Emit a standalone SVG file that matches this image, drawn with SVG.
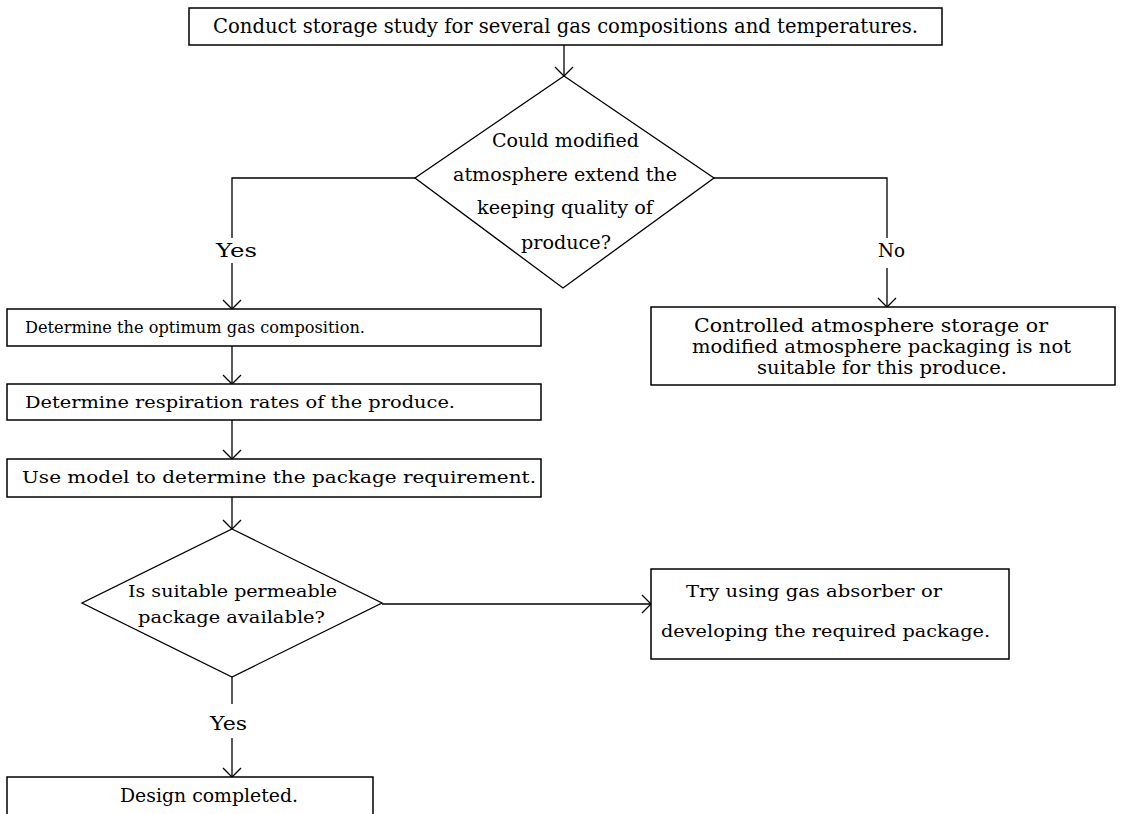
<svg xmlns="http://www.w3.org/2000/svg" width="1121" height="814" viewBox="0 0 1121 814">
<style>
.box{fill:#fff;stroke:#000;stroke-width:1.5}
.dia{fill:#fff;stroke:#000;stroke-width:1.3}
.ln{fill:none;stroke:#000;stroke-width:1.3}
text{font-family:"DejaVu Serif","Liberation Serif",serif;fill:#000}
</style>
<defs>
<marker id="ah" markerUnits="userSpaceOnUse" markerWidth="24" markerHeight="24" viewBox="-12 -12 24 24" refX="0" refY="0" orient="auto">
<path d="M-9,-9 L0,0 L-9,9" fill="none" stroke="#000" stroke-width="1.3"/>
</marker>
</defs>
<rect width="1121" height="814" fill="#fff"/>
<g id="connectors">
<line class="ln" x1="564" y1="45" x2="564" y2="76" marker-end="url(#ah)"/>
<polyline class="ln" points="415,178 232,178 232,238"/>
<line class="ln" x1="232" y1="263" x2="232" y2="309" marker-end="url(#ah)"/>
<polyline class="ln" points="714,178 887,178 887,238"/>
<line class="ln" x1="887" y1="268" x2="887" y2="307" marker-end="url(#ah)"/>
<line class="ln" x1="232" y1="346" x2="232" y2="384" marker-end="url(#ah)"/>
<line class="ln" x1="232" y1="420" x2="232" y2="459" marker-end="url(#ah)"/>
<line class="ln" x1="232" y1="497" x2="232" y2="529" marker-end="url(#ah)"/>
<line class="ln" x1="382" y1="604" x2="651" y2="604" marker-end="url(#ah)"/>
<line class="ln" x1="232" y1="677" x2="232" y2="704"/>
<line class="ln" x1="232" y1="738" x2="232" y2="777" marker-end="url(#ah)"/>
<text x="216" y="257" font-size="18" textLength="41" lengthAdjust="spacingAndGlyphs">Yes</text>
<text x="878" y="257" font-size="18" textLength="27" lengthAdjust="spacingAndGlyphs">No</text>
<text x="210" y="730" font-size="18" textLength="37" lengthAdjust="spacingAndGlyphs">Yes</text>
</g>
<g id="start">
<rect class="box" x="189" y="8" width="753" height="37"/>
<text x="213" y="33" font-size="20" textLength="705" lengthAdjust="spacingAndGlyphs">Conduct storage study for several gas compositions and temperatures.</text>
</g>
<g id="decision1">
<polygon class="dia" points="564,76 714,178 563,288 415,178"/>
<text x="492" y="147" font-size="19" textLength="147" lengthAdjust="spacingAndGlyphs">Could modified</text>
<text x="453" y="181" font-size="19" textLength="224" lengthAdjust="spacingAndGlyphs">atmosphere extend the</text>
<text x="477" y="214" font-size="19" textLength="176" lengthAdjust="spacingAndGlyphs">keeping quality of</text>
<text x="521" y="249" font-size="19" textLength="90" lengthAdjust="spacingAndGlyphs">produce?</text>
</g>
<g id="not-suitable">
<rect class="box" x="651" y="307" width="464" height="78"/>
<text x="694" y="332" font-size="18" textLength="354" lengthAdjust="spacingAndGlyphs">Controlled atmosphere storage or</text>
<text x="692" y="353" font-size="18" textLength="379" lengthAdjust="spacingAndGlyphs">modified atmosphere packaging is not</text>
<text x="757" y="374" font-size="18" textLength="250" lengthAdjust="spacingAndGlyphs">suitable for this produce.</text>
</g>
<g id="optimum-gas">
<rect class="box" x="7" y="309" width="534" height="37"/>
<text x="25" y="333" font-size="17" textLength="340" lengthAdjust="spacingAndGlyphs">Determine the optimum gas composition.</text>
</g>
<g id="respiration">
<rect class="box" x="7" y="384" width="534" height="36"/>
<text x="25" y="408" font-size="17" textLength="430" lengthAdjust="spacingAndGlyphs">Determine respiration rates of the produce.</text>
</g>
<g id="model">
<rect class="box" x="7" y="459" width="534" height="38"/>
<text x="22" y="483" font-size="17" textLength="514" lengthAdjust="spacingAndGlyphs">Use model to determine the package requirement.</text>
</g>
<g id="decision2">
<polygon class="dia" points="232,529 382,603 232,677 82,603"/>
<text x="128" y="597" font-size="17" textLength="209" lengthAdjust="spacingAndGlyphs">Is suitable permeable</text>
<text x="138" y="623" font-size="17" textLength="187" lengthAdjust="spacingAndGlyphs">package available?</text>
</g>
<g id="absorber">
<rect class="box" x="651" y="569" width="358" height="90"/>
<text x="686" y="597" font-size="17" textLength="256" lengthAdjust="spacingAndGlyphs">Try using gas absorber or</text>
<text x="661" y="637" font-size="17" textLength="329" lengthAdjust="spacingAndGlyphs">developing the required package.</text>
</g>
<g id="design-completed">
<rect class="box" x="7" y="777" width="366" height="50"/>
<text x="120" y="802" font-size="18" textLength="178" lengthAdjust="spacingAndGlyphs">Design completed.</text>
</g>
</svg>
